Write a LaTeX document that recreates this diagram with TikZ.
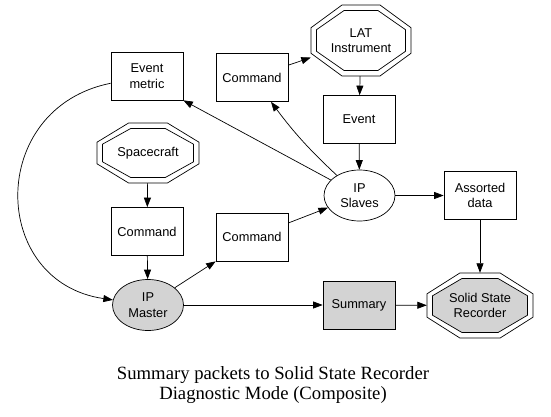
\documentclass[tikz,border=0pt]{standalone}
\usepackage{fontspec}
\setmainfont{Liberation Sans}
\newfontfamily\captionfont{Liberation Serif}
\usepackage{xcolor}
\usepackage{tikz}
\usetikzlibrary{positioning, arrows.meta, calc, backgrounds, shapes.geometric}

\definecolor{shade}{HTML}{D3D3D3}
\newcommand{\nodefont}{\fontsize{12.8}{15.5}\selectfont}
% double octagon round a node: name, half width, half height, inner fill
\newcommand{\dblocto}[4]{%
  \foreach \ins/\col in {0/white, 5.5/#4} {
    \pgfmathsetmacro{\hw}{#2-\ins}
    \pgfmathsetmacro{\hh}{#3-\ins}
    \draw[line width=0.7pt, fill=\col]
      ($(#1)+(-0.38*\hw,\hh)$) -- ($(#1)+(0.38*\hw,\hh)$)
      -- ($(#1)+(\hw,0.36*\hh)$) -- ($(#1)+(\hw,-0.36*\hh)$)
      -- ($(#1)+(0.38*\hw,-\hh)$) -- ($(#1)+(-0.38*\hw,-\hh)$)
      -- ($(#1)+(-\hw,-0.36*\hh)$) -- ($(#1)+(-\hw,0.36*\hh)$) -- cycle;
  }%
}

\begin{document}
\begin{tikzpicture}[
  x=1pt, y=1pt,
  box/.style={rectangle, draw, line width=0.7pt, minimum width=72pt, minimum height=48pt, inner sep=0pt, align=center, font=\nodefont},
  boxG/.style={box, fill=shade},
  proc/.style={ellipse, draw, line width=0.7pt, minimum width=71pt, minimum height=51pt, inner sep=0pt, align=center, font=\nodefont},
  procG/.style={proc, fill=shade},
  store/.style={rectangle, inner sep=0pt, align=center, font=\nodefont},
  arr/.style={-{Triangle[length=9.5pt, width=7pt]}, line width=0.7pt}
]
\useasboundingbox (0,0) rectangle (551,416);
% --- top rows ---
\node[store, minimum width=100pt, minimum height=71pt] (lat) at (361,375.5) {LAT\\Instrument};
\node[box] (cmdT) at (252,338.5) {Command};
\node[box] (metric) at (147,340) {Event\\metric};
\node[box] (event) at (359,296.5) {Event};
% --- middle ---
\node[store, minimum width=102pt, minimum height=60pt] (craft) at (148,263) {Spacecraft};
\node[box] (cmdL) at (147,184.5) {Command};
\node[box] (cmdM) at (252,179) {Command};
\node[proc] (slaves) at (359.5,220.5) {IP\\Slaves};
\node[box] (assorted) at (480,220.5) {Assorted\\data};
% --- bottom row ---
\node[procG] (master) at (148,111) {IP\\Master};
\node[boxG] (summary) at (359,111) {Summary};
\node[store, minimum width=106pt, minimum height=65pt] (ssr) at (480,110.5) {Solid State\\Recorder};
% octagons behind the text
\begin{scope}[on background layer]
  \dblocto{lat}{50}{35.5}{white}
  \dblocto{craft}{51}{30}{white}
  \dblocto{ssr}{53}{32.5}{shade}
\end{scope}

% --- edges ---
\draw[arr] (cmdT) -- (lat);
\draw[arr] (lat) -- (event);
\draw[arr] (event) -- (slaves);
\draw[arr] (slaves) -- (metric.south east);
\coordinate (cmdTfoot) at ([xshift=19pt]cmdT.south);
\draw[arr] (slaves) to[bend left=5] (cmdTfoot);
\draw[arr] (slaves) -- (assorted);
\draw[arr] (assorted) -- (ssr);
\draw[arr] (metric) .. controls (-13,308) and (-11,134) .. (master);
\draw[arr] (craft) -- (cmdL);
\draw[arr] (cmdL) -- (master);
\draw[arr] (master) -- (cmdM.south west);
\draw[arr] (cmdM) -- (slaves);
\draw[arr] (master) -- (summary);
\draw[arr] (summary) -- (ssr);

% caption
\node[font=\captionfont\fontsize{18.7}{20}\selectfont, align=center] (caption) at (273,31)
  {Summary packets to Solid State Recorder\\Diagnostic Mode (Composite)};
\end{tikzpicture}
\end{document}
